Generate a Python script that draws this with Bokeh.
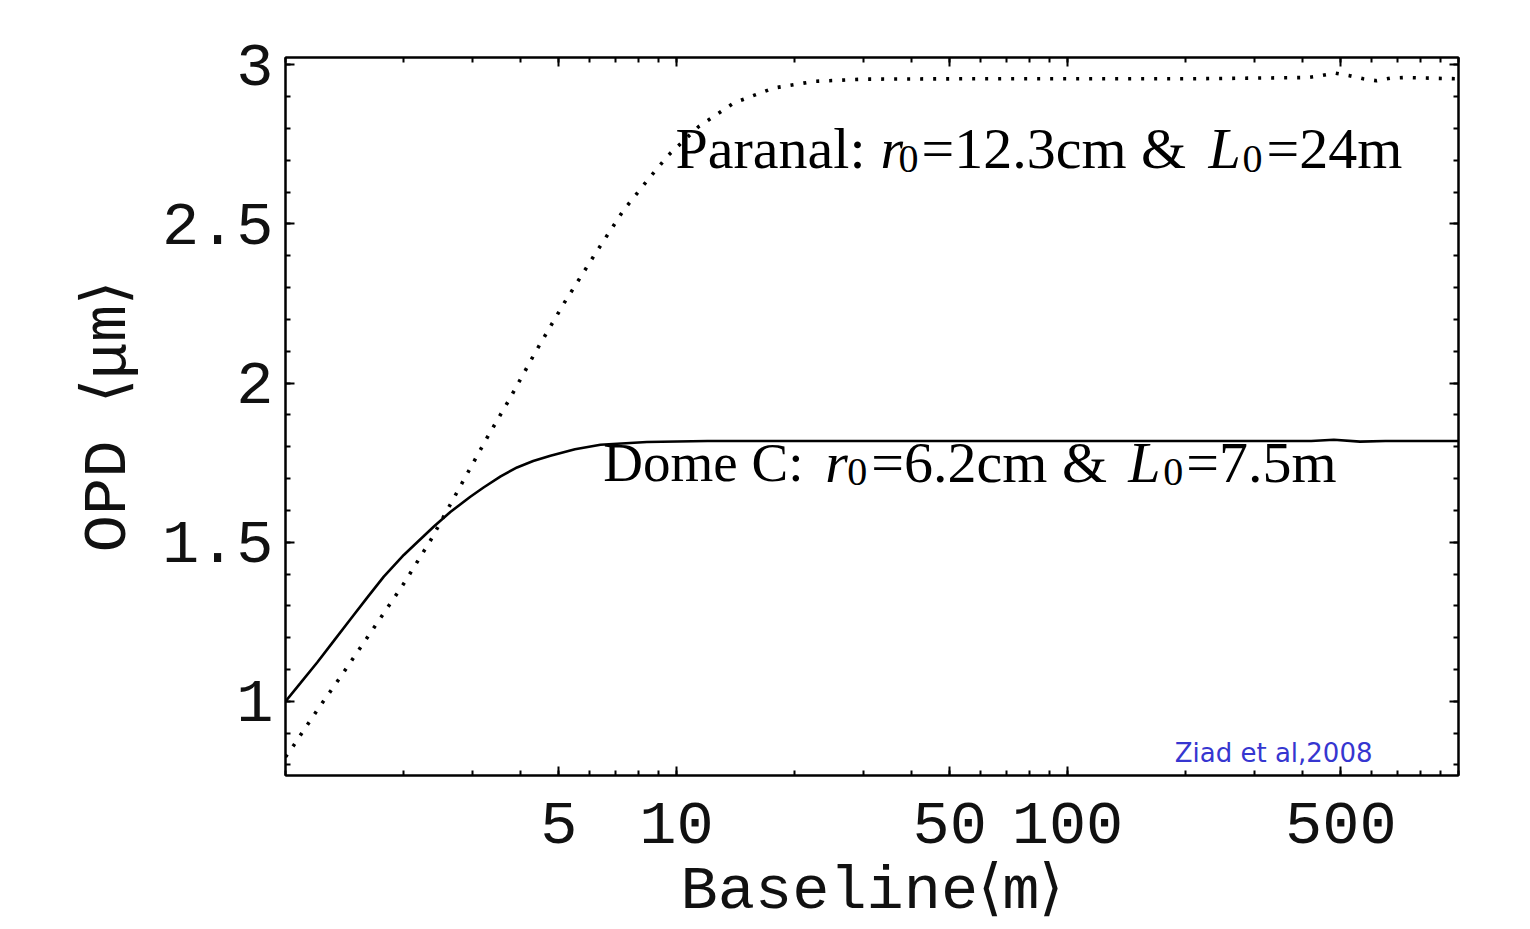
from bokeh.plotting import figure
from bokeh.models import FixedTicker, CustomJSTickFormatter, LogAxis, LinearAxis, Label, Range1d
from bokeh.embed import file_html
from bokeh.resources import INLINE

# ---- data ----
domec_baseline = [1.0, 1.093, 1.205, 1.329, 1.466, 1.618, 1.784, 2.007, 2.172, 2.40, 2.64, 2.97, 3.21,
                  3.55, 3.91, 4.3, 4.76, 5.5, 6.39, 8.4, 12, 20, 50, 100, 300, 420, 480, 560, 650, 1000]
domec_opd = [1.00, 1.058, 1.122, 1.19, 1.258, 1.326, 1.392, 1.46, 1.50, 1.55, 1.595, 1.643, 1.672,
             1.707, 1.735, 1.755, 1.772, 1.792, 1.806, 1.815, 1.818, 1.818, 1.818, 1.818, 1.818, 1.818,
             1.822, 1.816, 1.818, 1.818]

paranal_baseline = [1.0, 1.05, 1.205, 1.383, 1.666, 2.007, 2.35, 2.80, 3.28, 3.73, 4.36, 5.15, 6.15, 7.33,
                    8.58, 9.55, 11.4, 14.0, 17.7, 22.5, 30.1, 50, 100, 200, 411, 446, 484, 526, 571, 617, 670, 728, 1000]
paranal_opd = [0.825, 0.862, 0.972, 1.077, 1.223, 1.37, 1.506, 1.676, 1.829, 1.947, 2.098, 2.25, 2.40, 2.544,
               2.649, 2.717, 2.806, 2.880, 2.927, 2.948, 2.955, 2.956, 2.956, 2.956, 2.960, 2.966, 2.974, 2.966,
               2.956, 2.950, 2.958, 2.960, 2.956]

x_major_ticks = [5, 10, 50, 100, 500]
x_tick_labels = ["5", "10", "50", "100", "500"]
x_minor_ticks = [1, 2, 3, 4, 5, 6, 7, 8, 9, 10, 20, 30, 40, 50, 60, 70, 80, 90,
                 100, 200, 300, 400, 500, 600, 700, 800, 900, 1000]
y_major_ticks = [1, 1.5, 2, 2.5, 3]
y_tick_labels = ["1", "1.5", "2", "2.5", "3"]
y_minor_ticks = [0.8, 0.9, 1.0, 1.1, 1.2, 1.3, 1.4, 1.5, 1.6, 1.7, 1.8, 1.9, 2.0,
                 2.1, 2.2, 2.3, 2.4, 2.5, 2.6, 2.7, 2.8, 2.9, 3.0]

x_label = "Baseline\u27e8m\u27e9"
y_label = "OPD \u27e8\u03bcm\u27e9"

paranal_pieces = ["Paranal: ", "r", "0", "=12.3cm & ", "L", "0", "=24m"]
domec_pieces = ["Dome C: ", "r", "0", "=6.2cm & ", "L", "0", "=7.5m"]
credit = "Ziad et al,2008"

# ---- figure ----
TICK_FONT = "Liberation Mono"
SERIF = "Liberation Serif"
X0, X1, Y0, Y1 = 1, 1000, 0.767, 3.023

p = figure(width=1522, height=929, x_axis_type="log",
           x_range=Range1d(X0, X1), y_range=Range1d(Y0, Y1),
           output_backend="svg", toolbar_location=None,
           min_border_left=285, min_border_top=57, min_border_right=64, min_border_bottom=154)
p.grid.visible = False
p.outline_line_color = "black"
p.outline_line_width = 2
p.background_fill_color = "white"
p.border_fill_color = "white"

xt = FixedTicker(ticks=x_major_ticks, minor_ticks=x_minor_ticks)
yt = FixedTicker(ticks=y_major_ticks, minor_ticks=y_minor_ticks)

xfmt = CustomJSTickFormatter(args=dict(t=x_major_ticks, l=x_tick_labels),
                             code="const i = t.indexOf(tick); return i >= 0 ? l[i] : '';")
yfmt = CustomJSTickFormatter(args=dict(t=y_major_ticks, l=y_tick_labels),
                             code="const i = t.indexOf(tick); return i >= 0 ? l[i] : '';")


def style_axis(ax):
    ax.axis_line_color = "black"
    ax.axis_line_width = 2
    ax.major_tick_in = 9
    ax.major_tick_out = 0
    ax.minor_tick_in = 5
    ax.minor_tick_out = 0
    ax.major_tick_line_color = "black"
    ax.major_tick_line_width = 2
    ax.minor_tick_line_color = "black"
    ax.minor_tick_line_width = 2
    ax.major_label_text_font = TICK_FONT
    ax.major_label_text_font_size = "62px"
    ax.major_label_text_color = "#111111"
    ax.axis_label_text_font = TICK_FONT
    ax.axis_label_text_font_size = "62px"
    ax.axis_label_text_font_style = "normal"
    ax.axis_label_text_color = "#111111"
    ax.axis_label_text_line_height = 1.0
    ax.major_label_text_line_height = 1.0


xa = p.xaxis[0]
xa.ticker = xt
xa.formatter = xfmt
style_axis(xa)
xa.axis_label = x_label
xa.major_label_standoff = 27
xa.axis_label_standoff = 10

ya = p.yaxis[0]
ya.ticker = yt
ya.formatter = yfmt
style_axis(ya)
ya.axis_label = y_label
ya.major_label_standoff = 12
ya.axis_label_standoff = 15

top = LogAxis(ticker=FixedTicker(ticks=x_major_ticks, minor_ticks=x_minor_ticks),
              formatter=CustomJSTickFormatter(code="return '';"))
style_axis(top)
top.major_label_text_font_size = "0px"
p.add_layout(top, "above")

right = LinearAxis(ticker=FixedTicker(ticks=y_major_ticks, minor_ticks=y_minor_ticks),
                   formatter=CustomJSTickFormatter(code="return '';"))
style_axis(right)
right.major_label_text_font_size = "0px"
p.add_layout(right, "right")

# ---- curves ----
p.line(domec_baseline, domec_opd, line_color="black", line_width=2.6)
p.line(paranal_baseline, paranal_opd, line_color="black", line_width=3.6,
       line_dash="3 10", line_cap="butt")


# ---- annotations ----
def add_rich(pieces, x, y, offsets, sizes):
    styles = ["normal", "italic", "normal", "normal", "italic", "normal", "normal"]
    subs = [False, False, True, False, False, True, False]
    for txt, dx, st, sb, sz in zip(pieces, offsets, styles, subs, sizes):
        p.add_layout(Label(x=x, y=y, x_offset=dx, y_offset=11 if sb else 21, text=txt,
                           text_font=SERIF, text_font_style=st, text_font_size=sz,
                           text_color="black", text_align="left", text_baseline="alphabetic"))


add_rich(paranal_pieces, 9.94, 2.67, [0, 205, 223, 246, 533, 567, 591],
         ["58px", "58px", "40px", "58px", "58px", "40px", "58px"])
add_rich(domec_pieces, 6.5, 1.6855, [0, 222, 244, 268, 525, 560, 583],
         ["55px", "58px", "40px", "58px", "58px", "40px", "58px"])

p.add_layout(Label(x=188, y=0.808, y_offset=9, text=credit, text_font="DejaVu Sans", text_font_size="26px",
                   text_color="#3636d0", text_align="left", text_baseline="alphabetic"))

open("out.html", "w").write(file_html(p, INLINE))
